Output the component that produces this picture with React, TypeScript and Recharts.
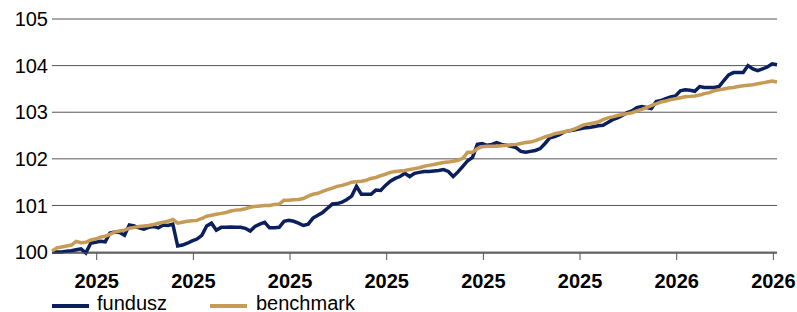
import { LineChart, Line, XAxis, YAxis, CartesianGrid, Legend } from "recharts";

// wartości, 151 notowań
const fundusz = [
  100.0, 100.0, 100.0, 100.02, 100.03, 100.05, 100.07, 99.98, 100.19, 100.21,
  100.23, 100.22, 100.41, 100.43, 100.42, 100.36, 100.58, 100.56, 100.52, 100.49,
  100.53, 100.55, 100.52, 100.58, 100.57, 100.6, 100.13, 100.15, 100.19, 100.24,
  100.28, 100.36, 100.56, 100.62, 100.47, 100.53, 100.53, 100.54, 100.53, 100.53,
  100.51, 100.45, 100.55, 100.6, 100.64, 100.52, 100.52, 100.53, 100.66, 100.68,
  100.66, 100.62, 100.57, 100.6, 100.73, 100.79, 100.85, 100.94, 101.03, 101.04,
  101.07, 101.13, 101.2, 101.41, 101.24, 101.24, 101.24, 101.33, 101.32, 101.43,
  101.52, 101.58, 101.62, 101.69, 101.62, 101.69, 101.71, 101.73, 101.73, 101.74,
  101.75, 101.77, 101.73, 101.62, 101.72, 101.84, 101.96, 102.03, 102.31, 102.33,
  102.29, 102.31, 102.35, 102.31, 102.29, 102.27, 102.24, 102.16, 102.14, 102.16,
  102.18, 102.22, 102.33, 102.45, 102.48, 102.52, 102.58, 102.6, 102.62, 102.64,
  102.66, 102.67, 102.69, 102.71, 102.72, 102.78, 102.84, 102.88, 102.93, 102.99,
  103.03, 103.1, 103.12, 103.1, 103.08, 103.23, 103.25, 103.29, 103.33, 103.35,
  103.46, 103.48, 103.47, 103.45, 103.55, 103.53, 103.53, 103.53, 103.55, 103.68,
  103.8, 103.85, 103.85, 103.85, 104.0, 103.93, 103.89, 103.93, 103.97, 104.04,
  104.02,
];

const benchmark = [
  100.02, 100.09, 100.11, 100.13, 100.15, 100.23, 100.2, 100.21, 100.26, 100.28,
  100.32, 100.34, 100.38, 100.43, 100.45, 100.47, 100.51, 100.53, 100.55, 100.56,
  100.57, 100.59, 100.62, 100.64, 100.66, 100.7, 100.62, 100.64, 100.66, 100.67,
  100.68, 100.72, 100.77, 100.79, 100.81, 100.83, 100.85, 100.88, 100.9, 100.91,
  100.93, 100.96, 100.98, 100.99, 101.0, 101.0, 101.02, 101.03, 101.11, 101.11,
  101.12, 101.13, 101.15, 101.2, 101.24, 101.26, 101.3, 101.34, 101.37, 101.41,
  101.43, 101.46, 101.5, 101.51, 101.52, 101.54, 101.58, 101.6, 101.64, 101.67,
  101.71, 101.73, 101.74, 101.75, 101.77, 101.79, 101.81, 101.84, 101.86, 101.88,
  101.9, 101.92, 101.93, 101.95, 101.97, 102.01, 102.14, 102.14, 102.22, 102.26,
  102.27, 102.27, 102.27, 102.28, 102.29, 102.3, 102.31, 102.33, 102.35, 102.36,
  102.39, 102.43, 102.47, 102.5, 102.54, 102.56, 102.58, 102.6, 102.64, 102.68,
  102.73, 102.75, 102.77, 102.79, 102.84, 102.88, 102.9, 102.93, 102.95, 102.97,
  102.99, 103.03, 103.06, 103.1, 103.14, 103.18, 103.22, 103.24, 103.27, 103.29,
  103.31, 103.33, 103.34, 103.35, 103.37, 103.4, 103.42, 103.46, 103.48, 103.5,
  103.52, 103.53, 103.55, 103.57, 103.58, 103.59, 103.61, 103.63, 103.65, 103.67,
  103.65,
];

const tickPos = [9.25, 29.25, 49.25, 69.25, 89.25, 109.25, 129.25, 149.25];
const tickLabels = ["2025", "2025", "2025", "2025", "2025", "2025", "2026", "2026"];
const yTicks = [100, 101, 102, 103, 104, 105];

const NAVY = "#0b1f5c";
const GOLD = "#c59b55";

const data = fundusz.map((v, i) => ({ i, fundusz: v, benchmark: benchmark[i] }));

const renderLegend = () => (
  <svg width={797} height={20} style={{ display: "block", overflow: "visible" }}>
    <line x1={52} x2={89} y1={14} y2={14} stroke={NAVY} strokeWidth={4} />
    <text x={97} y={18} fontSize={20} fontFamily="Liberation Sans, Arial, sans-serif" fill="#000">
      fundusz
    </text>
    <line x1={210} x2={247} y1={14} y2={14} stroke={GOLD} strokeWidth={4} />
    <text x={256} y={18} fontSize={20} fontFamily="Liberation Sans, Arial, sans-serif" fill="#000">
      benchmark
    </text>
  </svg>
);

export default function App() {
  return (
    <div style={{ position: "absolute", left: 0, top: 0, fontFamily: "Liberation Sans, Arial, sans-serif" }}>
      <LineChart
        width={797}
        height={312}
        data={data}
        margin={{ top: 19, right: 20, left: 0, bottom: 0 }}
      >
        <CartesianGrid vertical={false} stroke="#555" strokeWidth={1} />
        <XAxis
          dataKey="i"
          type="number"
          domain={[0, 150]}
          ticks={tickPos}
          interval={0}
          tickFormatter={(_v: number, idx: number) => tickLabels[idx]}
          height={39}
          stroke="#555"
          tickSize={7}
          tickMargin={14}
          tick={{ fontSize: 20, fontWeight: "bold", fill: "#000" }}
        />
        <YAxis
          domain={[100, 105]}
          ticks={yTicks}
          width={52}
          axisLine={false}
          tickLine={false}
          tickSize={4}
          tickMargin={0}
          tick={{ fontSize: 20, fill: "#000" }}
        />
        <Legend verticalAlign="bottom" content={renderLegend} wrapperStyle={{ left: 0, bottom: 0, width: 797, height: 20 }} />
        <Line
          dataKey="fundusz"
          stroke={NAVY}
          strokeWidth={3.5}
          dot={false}
          activeDot={false}
          isAnimationActive={false}
        />
        <Line
          dataKey="benchmark"
          stroke={GOLD}
          strokeWidth={3.5}
          dot={false}
          activeDot={false}
          isAnimationActive={false}
        />
      </LineChart>
    </div>
  );
}
